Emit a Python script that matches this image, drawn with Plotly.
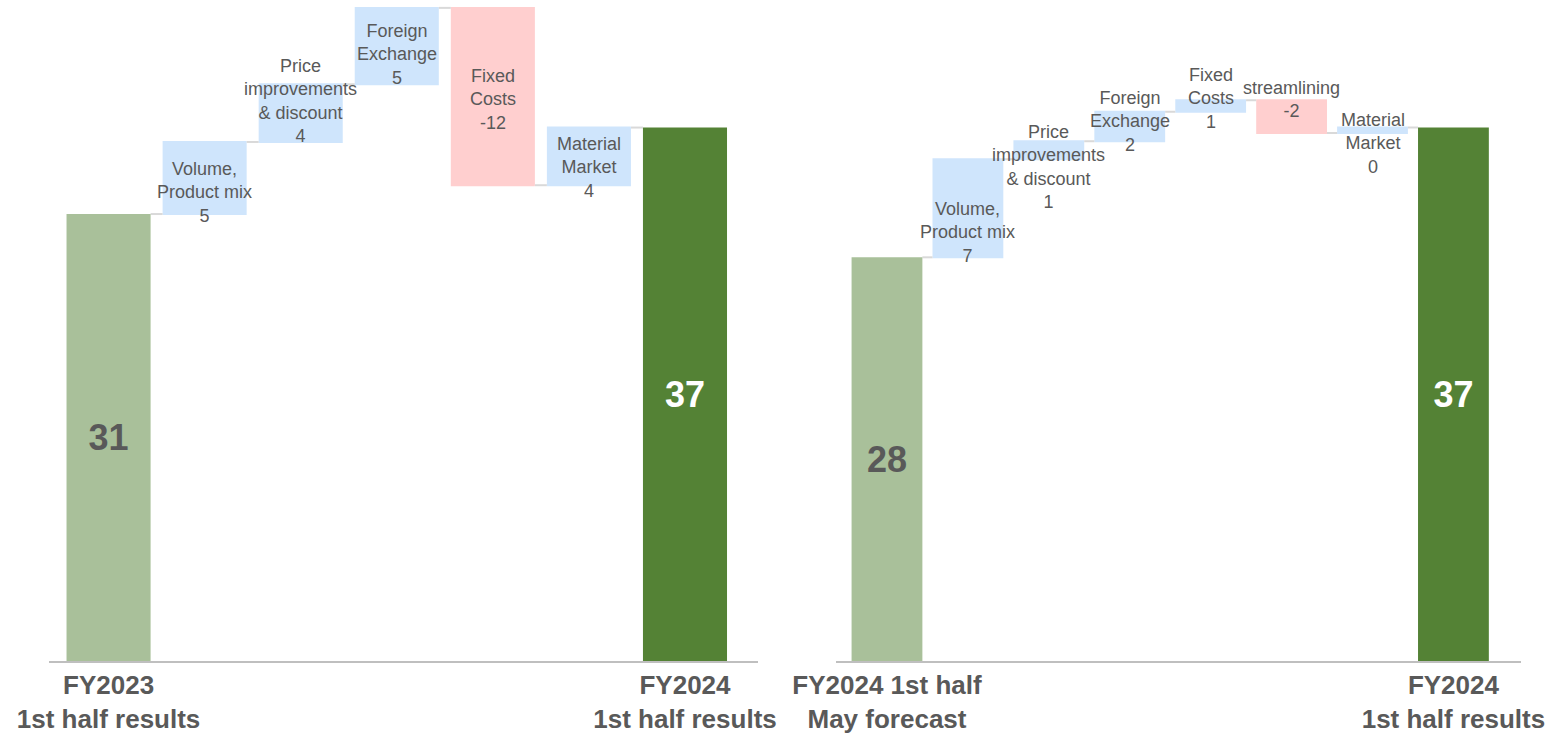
import plotly.graph_objects as go

# ---------------- data ----------------
left_categories = ["FY2023 1st half results", "Volume, Product mix", "Price improvements & discount",
                   "Foreign Exchange", "Fixed Costs", "Material Market", "FY2024 1st half results"]
left_labels = ["FY2023<br>1st half results", "Volume,<br>Product mix", "Price<br>improvements<br>& discount",
               "Foreign<br>Exchange", "Fixed<br>Costs", "Material<br>Market", "FY2024<br>1st half results"]
left_values = [31.0, 5.0, 4.0, 5.3, -12.3, 4.0, 37.0]
left_measures = ["absolute", "relative", "relative", "relative", "relative", "relative", "total"]

right_categories = ["FY2024 1st half May forecast", "Volume, Product mix ", "Price improvements & discount ",
                    "Foreign Exchange ", "Fixed Costs ", "streamlining", "Material Market ",
                    "FY2024 1st half results "]
right_labels = ["FY2024 1st half<br>May forecast", "Volume,<br>Product mix", "Price<br>improvements<br>& discount",
                "Foreign<br>Exchange", "Fixed<br>Costs", "streamlining", "Material<br>Market",
                "FY2024<br>1st half results"]
right_values = [28.0, 6.8, 1.25, 2.05, 0.8, -2.27, 0.37, 37.0]
right_measures = ["absolute", "relative", "relative", "relative", "relative", "relative", "relative", "total"]

# ---------------- style ----------------
FONT = "Liberation Sans, Arial, sans-serif"
GRAY = "#595959"
START_GREEN = "#A9C09A"
END_GREEN = "#548235"
UP_BLUE = "#CFE5FC"
DOWN_RED = "#FFCFCF"
CONNECTOR = "#D9D9D9"
AXIS_LINE = "#BFBFBF"
GAP = 0.125
# vertical label offsets in pixels (positive = downward) for the delta labels
left_label_offsets = [14, -12.5, 8, 2.5, 11]
right_label_offsets = [24, 16.5, -5, -7, -17.5, 13]

fig = go.Figure()


def add_total_bar(cat, value, color, text_color, xa, ya):
    fig.add_trace(go.Waterfall(
        x=[cat], y=[value], measure=["absolute"], xaxis=xa, yaxis=ya,
        totals=dict(marker=dict(color=color, line=dict(width=0))),
        connector=dict(visible=False),
        text=[f"<b>{value:.0f}</b>"], textposition="inside", insidetextanchor="middle",
        textangle=0, textfont=dict(size=36, color=text_color, family=FONT),
        showlegend=False, hoverinfo="skip",
    ))


def add_chart(cats, labels, values, measures, offsets, xa, ya):
    n = len(cats)
    # main waterfall: deltas + connectors (totals drawn separately)
    fig.add_trace(go.Waterfall(
        x=cats, y=values, measure=measures, xaxis=xa, yaxis=ya,
        increasing=dict(marker=dict(color=UP_BLUE)),
        decreasing=dict(marker=dict(color=DOWN_RED)),
        totals=dict(marker=dict(color="rgba(0,0,0,0)", line=dict(width=0))),
        connector=dict(line=dict(color=CONNECTOR, width=2), mode="between"),
        textinfo="none", cliponaxis=False, showlegend=False, hoverinfo="skip",
    ))
    add_total_bar(cats[0], values[0], START_GREEN, GRAY, xa, ya)
    add_total_bar(cats[-1], values[-1], END_GREEN, "white", xa, ya)
    # delta labels
    cum = values[0]
    for i in range(1, n - 1):
        v = values[i]
        mid = cum + v / 2
        cum += v
        fig.add_annotation(
            x=cats[i], y=mid, xref=xa, yref=ya.replace("axis", ""),
            text=f"{labels[i]}<br>{v:.0f}", showarrow=False,
            yshift=-offsets[i - 1],
            font=dict(size=18, color=GRAY, family=FONT), align="center",
        )


add_chart(left_categories, left_labels, left_values, left_measures, left_label_offsets, "x", "y")
add_chart(right_categories, right_labels, right_values, right_measures, right_label_offsets, "x2", "y2")

common_x = dict(showgrid=False, zeroline=False, showline=True, linecolor=AXIS_LINE, linewidth=2,
                ticks="", tickfont=dict(size=26, color=GRAY, family=FONT), automargin=False,
                tickmode="array", ticklabelstandoff=0, fixedrange=True)
common_y = dict(visible=False, range=[0, 45.5], showgrid=False, zeroline=False, fixedrange=True)

fig.update_layout(
    width=1554, height=735,
    margin=dict(l=0, r=0, t=5, b=74),
    paper_bgcolor="white", plot_bgcolor="white",
    waterfallmode="overlay", waterfallgap=GAP,
    font=dict(family=FONT, color=GRAY),
    xaxis=dict(common_x, domain=[49 / 1554, 758 / 1554], range=[-0.62, 6.76],
               tickvals=[left_categories[0], left_categories[-1]],
               ticktext=[f"<b>{left_labels[0]}</b>", f"<b>{left_labels[-1]}</b>"]),
    yaxis=dict(common_y, anchor="x"),
    xaxis2=dict(common_x, domain=[836 / 1554, 1520.6 / 1554], range=[-0.63, 7.83], anchor="y2",
                tickvals=[right_categories[0], right_categories[-1]],
                ticktext=[f"<b>{right_labels[0]}</b>", f"<b>{right_labels[-1]}</b>"]),
    yaxis2=dict(common_y, anchor="x2"),
)

fig.write_html("out.html", config={"displayModeBar": False})
